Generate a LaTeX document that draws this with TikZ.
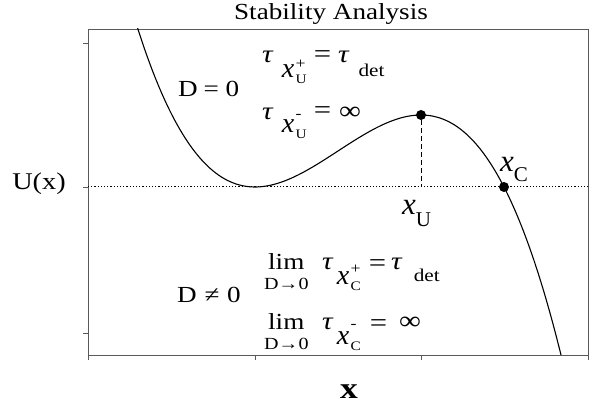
\documentclass[tikz,border=0pt]{standalone}
\usepackage{fontspec}
\setmainfont[FakeStretch=1.18]{Liberation Serif}
\newfontfamily\varfont{Liberation Serif}
\usepackage{tikz}
\usetikzlibrary{positioning}
\newcommand{\mainsize}{\fontsize{23}{27}\selectfont}
\newcommand{\varx}[1]{{\varfont\fontsize{#1}{#1}\selectfont\itshape x}}
\newcommand{\tauv}{{\fontsize{25}{25}\selectfont\itshape τ}}
\newcommand{\eqs}{{\fontsize{26}{26}\selectfont =}}
\newcommand{\infs}{{\fontsize{26}{26}\selectfont ∞}}
\newcommand{\dets}{{\fontsize{18}{18}\selectfont det}}
% x with stacked superscript and subscript
\newcommand{\xsub}[3]{\varx{28}\kern1.5pt\rlap{\raisebox{#3}{\fontsize{15}{15}\selectfont #1}}\raisebox{-6pt}{\fontsize{13}{13}\selectfont #2}}
\tikzset{
  frame/.style  = {draw=black!65, line width=0.9pt},
  tickmark/.style = {draw=black!65, line width=0.9pt},
  curve/.style  = {draw=black, line width=1.1pt},
  guide/.style  = {draw=black, line width=1pt, dash pattern=on 1.2pt off 2pt},
  drop/.style   = {draw=black, line width=0.9pt, dash pattern=on 5pt off 3pt},
  dot/.style    = {circle, fill=black, inner sep=0pt, minimum size=10pt},
  lbl/.style    = {inner sep=0pt, anchor=base west, font=\mainsize},
  limsub/.style = {inner sep=0pt, font=\fontsize{17}{17}\selectfont}
}
\begin{document}
\begin{tikzpicture}[x=1pt, y=1pt]
  \useasboundingbox (0,0) rectangle (595,409);
  % axes box and ticks
  \draw[frame] (88,54) rectangle (588,380);
  \foreach \ty in {366,222,76} \draw[tickmark] (83,\ty) -- (88,\ty);
  \foreach \tx in {88,255,421,588} \draw[tickmark] (\tx,54) -- (\tx,49);
  % potential U(x)
  \draw[guide] (88,222) -- (588,222);
  \begin{scope}
    \clip (88,54) rectangle (588,380);
    \draw[curve] plot[domain=130:570, samples=150, smooth]
      (\x, {222 + 31.48*((\x-255)/100)^2*(2.49-(\x-255)/100)});
  \end{scope}
  \coordinate (xUbase) at (421,222);
  \node[dot] (xUpt) at (421,294) {};
  \node[dot] (xCpt) at (504,222) {};
  \draw[drop] (xUpt) -- (xUbase);
  % labels
  \node[font=\mainsize] (title) at (331,395) {Stability Analysis};
  \node[font=\fontsize{24}{28}\selectfont] (ulab) at (39,225) {U(x)};
  \node[font=\fontsize{30}{32}\selectfont\bfseries] (xlab) at (349,17) {x};
  \node[lbl] (xUlab) at (402,194) {\varx{31}\raisebox{-12pt}{\varfont\fontsize{21}{21}\selectfont U}};
  \node[lbl] (xClab) at (500,237) {\varx{31}\raisebox{-10pt}{\varfont\fontsize{21}{21}\selectfont C}};
  \node[lbl] (dzero) at (178,312) {D\hspace{-1pt} = 0};
  \node[lbl] (dnonzero) at (177,106) {D\hspace{1pt} ≠\hspace{1pt} 0};
  \node[lbl] (tauUp) at (262,346) {\tauv\hspace{9pt}\raisebox{-15pt}{\xsub{+}{U}{9pt}}\hspace{7pt}\eqs\hspace{7pt}\tauv\hspace{10pt}\raisebox{-14pt}{\dets}};
  \node[lbl] (tauUm) at (262,289) {\tauv\hspace{9pt}\raisebox{-13pt}{\xsub{-}{U}{14pt}}\hspace{7pt}\raisebox{1pt}{\eqs}\hspace{8pt}\infs};
  \node[lbl] (limA) at (268,139) {lim};
  \node[limsub, below=8pt of limA] (limAsub) {D→0};
  \node[lbl] (tauCp) at (322,139) {\tauv\hspace{4pt}\raisebox{-15pt}{\xsub{+}{C}{11pt}}\hspace{8pt}\raisebox{-2pt}{\eqs}\hspace{5pt}\tauv\hspace{12pt}\raisebox{-12pt}{\dets}};
  \node[lbl] (limB) at (268,79) {lim};
  \node[limsub, below=8pt of limB] (limBsub) {D→0};
  \node[lbl] (tauCm) at (322,79) {\tauv\hspace{4pt}\raisebox{-15pt}{\xsub{-}{C}{16pt}}\hspace{9pt}\raisebox{-2pt}{\eqs}\hspace{12pt}\infs};
\end{tikzpicture}
\end{document}
